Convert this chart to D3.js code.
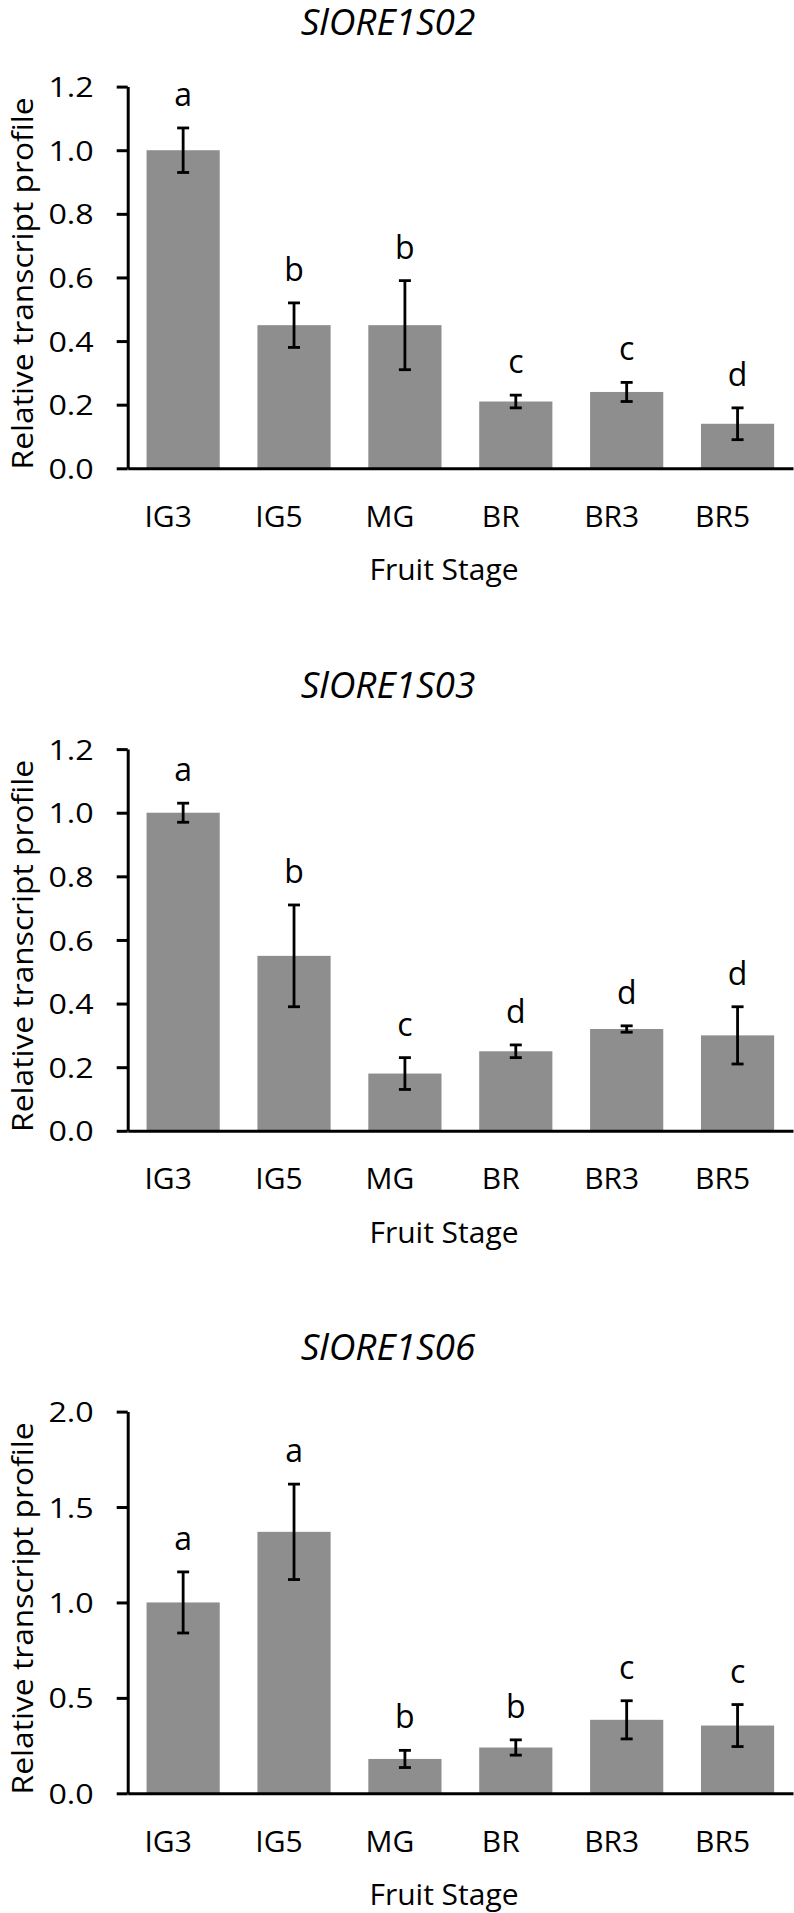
<!DOCTYPE html>
<html>
<head>
<meta charset="utf-8">
<script src="https://cdn.jsdelivr.net/npm/d3@7"></script>
<style>
  body { margin: 0; background: #ffffff; }
  svg { display: block; font-family: "Open Sans", sans-serif; }
</style>
</head>
<body>
<div id="chart"></div>
<script>
// Fruit stages (x categories)
const stages = ['IG3', 'IG5', 'MG', 'BR', 'BR3', 'BR5'];

// SlORE1S02
const s02Mean = [1.00, 0.45, 0.45, 0.21, 0.24, 0.14];
const s02Err = [0.07, 0.07, 0.14, 0.02, 0.03, 0.05];
const s02Letters = ['a', 'b', 'b', 'c', 'c', 'd'];

// SlORE1S03
const s03Mean = [1.00, 0.55, 0.18, 0.25, 0.32, 0.30];
const s03Err = [0.03, 0.16, 0.05, 0.02, 0.01, 0.09];
const s03Letters = ['a', 'b', 'c', 'd', 'd', 'd'];

// SlORE1S06
const s06Mean = [1.00, 1.37, 0.18, 0.24, 0.385, 0.355];
const s06Err = [0.16, 0.25, 0.045, 0.04, 0.10, 0.11];
const s06Letters = ['a', 'a', 'b', 'b', 'c', 'c'];

// y tick labels
const ticksSmall = [0, 0.2, 0.4, 0.6, 0.8, 1.0, 1.2];
const ticksLarge = [0, 0.5, 1.0, 1.5, 2.0];

const panels = [
    { title: 'SlORE1S02', mean: s02Mean, err: s02Err, letters: s02Letters, ticks: ticksSmall },
    { title: 'SlORE1S03', mean: s03Mean, err: s03Err, letters: s03Letters, ticks: ticksSmall },
    { title: 'SlORE1S06', mean: s06Mean, err: s06Err, letters: s06Letters, ticks: ticksLarge }
];

const width = 794;
const height = 1913;
const panelStep = 662.5;
const plotLeft = 127.7;
const plotRight = 793;
const plotTop = 86.6;
const plotBottom = 468.3;

const svg = d3.select('#chart')
    .append('svg')
    .attr('width', width)
    .attr('height', height);

svg.append('rect')
    .attr('width', width)
    .attr('height', height)
    .attr('fill', '#ffffff');

const x = d3.scaleBand()
    .domain(stages)
    .range([plotLeft, plotRight])
    .paddingInner(0.34)
    .paddingOuter(0.17);

panels.forEach((p, i) => {
    const g = svg.append('g')
        .attr('transform', `translate(0, ${i * panelStep})`);

    const yMax = p.ticks[p.ticks.length - 1];
    const y = d3.scaleLinear()
        .domain([0, yMax])
        .range([plotBottom, plotTop]);

    const rows = stages.map((s, k) => ({
        stage: s, mean: p.mean[k], err: p.err[k], letter: p.letters[k]
    }));

    // title
    g.append('text')
        .attr('x', 388)
        .attr('y', 35)
        .attr('text-anchor', 'middle')
        .style('font-size', '37px')
        .style('font-style', 'italic')
        .style('fill', '#000')
        .text(p.title);

    // bars
    g.selectAll('rect.bar')
        .data(rows)
        .enter()
        .append('rect')
        .attr('class', 'bar')
        .attr('x', d => x(d.stage))
        .attr('y', d => y(d.mean))
        .attr('width', x.bandwidth())
        .attr('height', d => y(0) - y(d.mean))
        .attr('fill', '#8e8e8e');

    // error bars
    const eb = g.selectAll('g.err')
        .data(rows)
        .enter()
        .append('g')
        .attr('class', 'err')
        .attr('stroke', '#000')
        .attr('stroke-width', 2.8);

    const cx = d => x(d.stage) + x.bandwidth() / 2;
    eb.append('line')
        .attr('x1', cx).attr('x2', cx)
        .attr('y1', d => y(d.mean + d.err))
        .attr('y2', d => y(d.mean - d.err));
    eb.append('line')
        .attr('x1', d => cx(d) - 6).attr('x2', d => cx(d) + 6)
        .attr('y1', d => y(d.mean + d.err))
        .attr('y2', d => y(d.mean + d.err));
    eb.append('line')
        .attr('x1', d => cx(d) - 6).attr('x2', d => cx(d) + 6)
        .attr('y1', d => y(d.mean - d.err))
        .attr('y2', d => y(d.mean - d.err));

    // significance letters
    g.selectAll('text.letter')
        .data(rows)
        .enter()
        .append('text')
        .attr('class', 'letter')
        .attr('x', cx)
        .attr('y', d => y(d.mean + d.err) - 22)
        .attr('text-anchor', 'middle')
        .style('font-size', '32px')
        .style('fill', '#000')
        .text(d => d.letter);

    // y axis
    const yAxis = g.append('g')
        .attr('transform', `translate(${plotLeft}, 0)`)
        .call(d3.axisLeft(y).tickValues(p.ticks).tickSize(11).tickSizeOuter(0)
            .tickFormat(d3.format('.1f')));
    yAxis.select('.domain').attr('stroke-width', 3);
    yAxis.selectAll('.tick line').attr('stroke-width', 3);
    yAxis.selectAll('.tick text')
        .attr('x', -34 / 1.15)
        .attr('dy', '0.36em')
        .attr('transform', 'scale(1.15,1)')
        .style('font-size', '28px')
        .style('font-family', '"Open Sans", sans-serif')
        .style('fill', '#000');

    // x axis
    const xAxis = g.append('g')
        .attr('transform', `translate(0, ${plotBottom})`)
        .call(d3.axisBottom(x).tickSize(0).tickSizeOuter(0));
    xAxis.select('.domain').attr('stroke-width', 3);
    xAxis.selectAll('.tick text')
        .attr('x', -15)
        .attr('y', 58.7)
        .attr('dy', 0)
        .style('font-size', '30px')
        .style('font-family', '"Open Sans", sans-serif')
        .style('fill', '#000');

    // axis titles
    g.append('text')
        .attr('x', 444)
        .attr('y', 580)
        .attr('text-anchor', 'middle')
        .style('font-size', '30px')
        .style('fill', '#000')
        .text('Fruit Stage');

    g.append('text')
        .attr('transform', `translate(33, ${(plotTop + plotBottom) / 2 + 6}) rotate(-90)`)
        .attr('text-anchor', 'middle')
        .attr('textLength', 372)
        .attr('lengthAdjust', 'spacingAndGlyphs')
        .style('font-size', '30px')
        .style('fill', '#000')
        .text('Relative transcript profile');
});
</script>
</body>
</html>
